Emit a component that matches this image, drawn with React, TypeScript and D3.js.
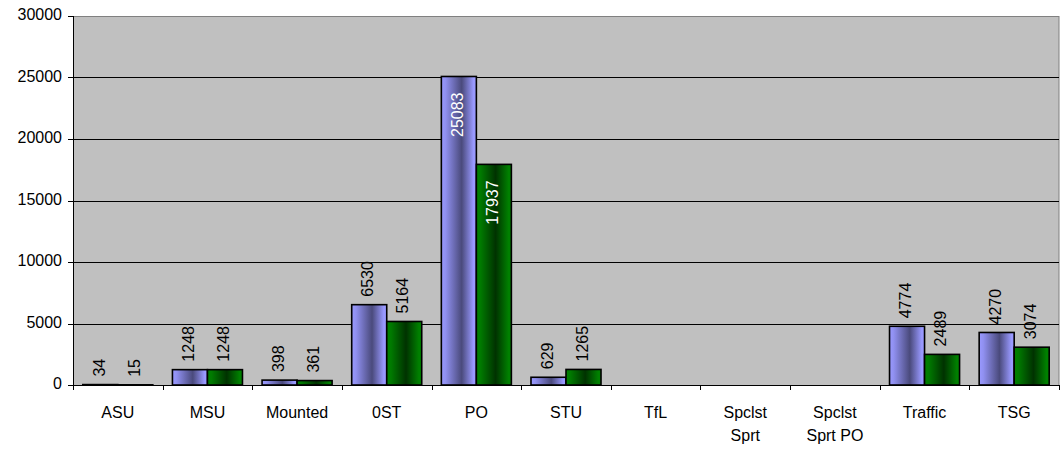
import React from 'react';
import * as d3 from 'd3';

const categories = ['ASU', 'MSU', 'Mounted', '0ST', 'PO', 'STU', 'TfL', 'Spclst Sprt', 'Spclst Sprt PO', 'Traffic', 'TSG'];
const categoryLines = [['ASU'], ['MSU'], ['Mounted'], ['0ST'], ['PO'], ['STU'], ['TfL'], ['Spclst', 'Sprt'], ['Spclst', 'Sprt PO'], ['Traffic'], ['TSG']];
const seriesA = [34, 1248, 398, 6530, 25083, 629, null, null, null, 4774, 4270];
const seriesB = [15, 1248, 361, 5164, 17937, 1265, null, null, null, 2489, 3074];
const yTicks = [0, 5000, 10000, 15000, 20000, 25000, 30000];

const series = [
    { key: 'a', values: seriesA, fill: 'url(#gradBlue)' },
    { key: 'b', values: seriesB, fill: 'url(#gradGreen)' },
];

const App = () => {
    const width = 1064;
    const height = 451;
    const margin = { top: 16, right: 5, bottom: 66, left: 73 };
    const font = '"Liberation Sans", Arial, sans-serif';

    const x0 = d3.scaleBand()
        .domain(categories)
        .range([margin.left, width - margin.right])
        .padding(0);

    const x1 = d3.scaleBand()
        .domain(series.map(s => s.key))
        .range([0, x0.bandwidth()])
        .paddingInner(0)
        .paddingOuter(0.28);

    const y = d3.scaleLinear()
        .domain([0, 30000])
        .range([height - margin.bottom, margin.top]);

    const left = margin.left;
    const right = width - margin.right;
    const bottom = y(0);

    return (
        <svg width={width} height={height} style={{ position: 'absolute', left: 0, top: 0, background: '#fff' }}>
            <defs>
                <linearGradient id="gradBlue" x1="0" x2="1" y1="0" y2="0">
                    <stop offset="0" stopColor="#9999ff" />
                    <stop offset="0.12" stopColor="#9090f0" />
                    <stop offset="0.58" stopColor="#4a4a7c" />
                    <stop offset="0.92" stopColor="#9999ff" />
                    <stop offset="1" stopColor="#9999ff" />
                </linearGradient>
                <linearGradient id="gradGreen" x1="0" x2="1" y1="0" y2="0">
                    <stop offset="0" stopColor="#008000" />
                    <stop offset="0.12" stopColor="#007a00" />
                    <stop offset="0.55" stopColor="#003200" />
                    <stop offset="0.92" stopColor="#008000" />
                    <stop offset="1" stopColor="#008000" />
                </linearGradient>
            </defs>

            <rect x={left} y={margin.top} width={right - left} height={bottom - margin.top} fill="#c0c0c0" />
            <line x1={right} x2={right} y1={margin.top} y2={bottom} stroke="#808080" />
            <line x1={left} x2={right} y1={y(30000) + 0.5} y2={y(30000) + 0.5} stroke="#808080" />

            {yTicks.filter(t => t > 0 && t < 30000).map(t => (
                <line key={t} x1={left} x2={right} y1={Math.round(y(t)) + 0.5} y2={Math.round(y(t)) + 0.5} stroke="#000" />
            ))}

            {series.map(s => (
                <g key={s.key}>
                    {categories.map((c, i) => {
                        const v = s.values[i];
                        if (v == null) return null;
                        const bx = (x0(c) ?? 0) + (x1(s.key) ?? 0);
                        const by = y(v);
                        return (
                            <rect key={c} x={bx} y={by} width={x1.bandwidth()} height={Math.max(0, bottom - by)}
                                fill={s.fill} stroke="#000" strokeWidth={1.6} />
                        );
                    })}
                </g>
            ))}

            {series.map(s => (
                <g key={'lbl' + s.key}>
                    {categories.map((c, i) => {
                        const v = s.values[i];
                        if (v == null) return null;
                        const cx = (x0(c) ?? 0) + (x1(s.key) ?? 0) + x1.bandwidth() / 2;
                        const by = y(v);
                        const inside = v > 15000;
                        return (
                            <text key={c}
                                transform={`translate(${cx},${inside ? by + 16 : by - 8}) rotate(-90)`}
                                textAnchor={inside ? 'end' : 'start'}
                                dominantBaseline="middle"
                                fontFamily={font} fontSize={16}
                                fill={inside ? '#fff' : '#000'}>
                                {v}
                            </text>
                        );
                    })}
                </g>
            ))}

            <line x1={left + 0.5} x2={left + 0.5} y1={margin.top} y2={bottom} stroke="#000" />
            <line x1={left} x2={right} y1={bottom + 0.5} y2={bottom + 0.5} stroke="#000" />

            {yTicks.map(t => (
                <g key={'yt' + t}>
                    <line x1={left - 5} x2={left} y1={Math.round(y(t)) + 0.5} y2={Math.round(y(t)) + 0.5} stroke="#000" />
                    <text x={left - 11} y={y(t)} textAnchor="end" dominantBaseline="middle"
                        fontFamily={font} fontSize={16} fill="#000">{t}</text>
                </g>
            ))}

            {categories.concat(['']).map((c, i) => {
                const xx = Math.round(left + i * x0.step()) + 0.5;
                return <line key={'xt' + i} x1={xx} x2={xx} y1={bottom} y2={bottom + 5} stroke="#000" />;
            })}

            {categories.map((c, i) => (
                <text key={'xl' + c} x={(x0(c) ?? 0) + x0.bandwidth() / 2} y={418}
                    textAnchor="middle" fontFamily={font} fontSize={16} fill="#000">
                    {categoryLines[i].map((line, j) => (
                        <tspan key={j} x={(x0(c) ?? 0) + x0.bandwidth() / 2} dy={j === 0 ? 0 : 23}>{line}</tspan>
                    ))}
                </text>
            ))}
        </svg>
    );
};

export default App;
